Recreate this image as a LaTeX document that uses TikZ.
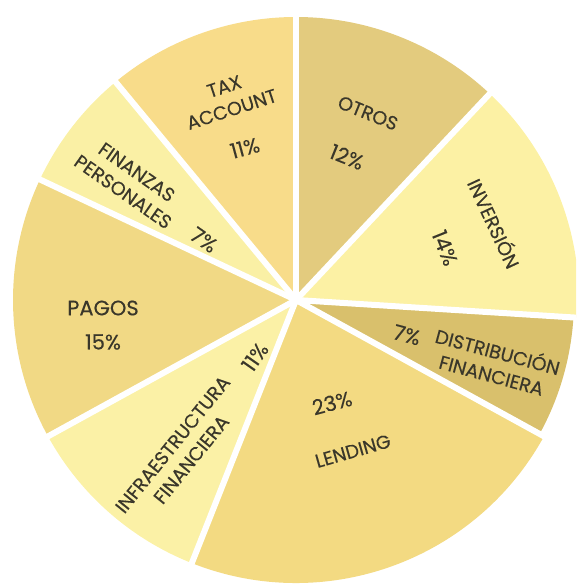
\documentclass[tikz,border=0pt]{standalone}
\usepackage{fontspec}
\setmainfont{Poppins}[FakeBold=0.3]
\definecolor{cOtros}{HTML}{E3CB7E}
\definecolor{cInv}{HTML}{FCF1A4}
\definecolor{cDist}{HTML}{D9C06C}
\definecolor{cLend}{HTML}{F3DA82}
\definecolor{cInfra}{HTML}{FBF1A6}
\definecolor{cPagos}{HTML}{F1D985}
\definecolor{cFin}{HTML}{FAF0A5}
\definecolor{cTax}{HTML}{F8DC8A}
\definecolor{cText}{HTML}{3A372A}
\begin{document}
\begin{tikzpicture}[x=1pt,y=1pt,
  lbl/.style={text=cText,font=\fontsize{19}{24}\selectfont,align=center,inner sep=0pt},
  pct/.style={lbl,font=\fontsize{21}{24}\selectfont},
  big/.style={font=\fontsize{21}{24}\selectfont},
  gap/.style={draw=white,line width=6pt}]
\useasboundingbox (-296,-285) rectangle (280,300);
\clip (-296,-285) rectangle (280,300);
\def\R{283}
% slices
\fill[cOtros] (0,0) -- (90:\R) arc[start angle=90,end angle=46.8,radius=\R] -- cycle;
\fill[cInv] (0,0) -- (46.8:\R) arc[start angle=46.8,end angle=-3.6,radius=\R] -- cycle;
\fill[cDist] (0,0) -- (-3.6:278) arc[start angle=-3.6,end angle=-28.8,radius=278] -- cycle;
\fill[cLend] (0,0) -- (-28.8:\R) arc[start angle=-28.8,end angle=-111.6,radius=\R] -- cycle;
\fill[cInfra] (0,0) -- (-111.6:\R) arc[start angle=-111.6,end angle=-151.2,radius=\R] -- cycle;
\fill[cPagos] (0,0) -- (-151.2:\R) arc[start angle=-151.2,end angle=-205.2,radius=\R] -- cycle;
\fill[cFin] (0,0) -- (154.8:\R) arc[start angle=154.8,end angle=129.6,radius=\R] -- cycle;
\fill[cTax] (0,0) -- (129.6:\R) arc[start angle=129.6,end angle=90,radius=\R] -- cycle;
% gaps
\foreach \a in {90,46.8,-3.6,-28.8,-111.6,-151.2,154.8,129.6}
  \draw[gap] (0,0) -- (\a:300);
\fill[white] (0,0) circle (5);
% labels
\node[lbl,rotate=18] (tax) at (-68,202) {TAX\\ACCOUNT};
\node[pct,rotate=15] (taxp) at (-51,152) {11\%};
\node[lbl,rotate=-35] (fin) at (-166,118) {FINANZAS\\PERSONALES};
\node[pct,rotate=-35] (finp) at (-92,60) {7\%};
\node[lbl,rotate=-22] (otros) at (72,187) {OTROS};
\node[pct,rotate=-22] (otrosp) at (51,143) {12\%};
\node[lbl,rotate=-65] (inv) at (199,77) {INVERSIÓN};
\node[pct,rotate=-68] (invp) at (149,52) {14\%};
\node[lbl,rotate=-15] (dist) at (199,-62) {DISTRIBUCIÓN\\FINANCIERA};
\node[pct,rotate=-15] (distp) at (111,-35) {7\%};
\node[pct,rotate=15] (lendp) at (36,-103) {23\%};
\node[lbl,rotate=16] (lend) at (57,-151) {LENDING};
\node[lbl,big] (pagos) at (-193,-8) {PAGOS};
\node[lbl,big] (pagosp) at (-193,-42) {15\%};
\node[lbl,rotate=51] (infra) at (-114,-152) {INFRAESTRUCTURA\\FINANCIERA};
\node[pct,rotate=55] (infrap) at (-41,-57) {11\%};
\end{tikzpicture}
\end{document}
